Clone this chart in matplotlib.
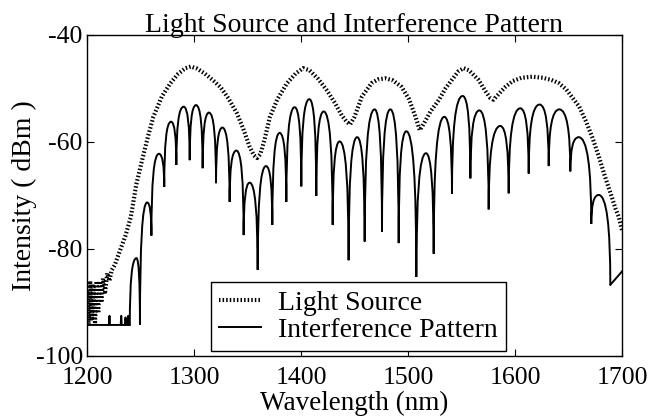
import matplotlib
matplotlib.use("Agg")
import matplotlib.pyplot as plt
from matplotlib.path import Path
from matplotlib.patches import PathPatch
from matplotlib.lines import Line2D

plt.rcParams['font.family'] = ['Liberation Serif', 'DejaVu Serif']

title = "Light Source and Interference Pattern"
xlabel = "Wavelength (nm)"
ylabel = "Intensity ( dBm )"
xticks = [1200, 1300, 1400, 1500, 1600, 1700]
yticks = [-100, -80, -60, -40]
legend_labels = ["Light Source", "Interference Pattern"]

# Light source spectrum (wavelength nm, dBm)
ls_wl = [1200, 1201.5, 1203, 1204.5, 1206, 1207.5, 1209, 1210.5, 1212, 1213.5,
         1215, 1217, 1219, 1221, 1223, 1226, 1231, 1236, 1241, 1246, 1252, 1257,
         1262, 1270, 1278, 1285, 1292, 1297, 1303, 1310, 1318, 1325, 1332, 1340,
         1346, 1352, 1356, 1359, 1362, 1366, 1371, 1378, 1387, 1395, 1402, 1408,
         1416, 1424, 1432, 1438, 1443, 1446, 1450, 1457, 1466, 1472, 1479, 1486,
         1494, 1501, 1507, 1511, 1515, 1521, 1529, 1535, 1541, 1547, 1552, 1557,
         1562, 1566, 1572, 1577, 1580, 1584, 1591, 1598, 1606, 1616, 1626, 1634,
         1641, 1648, 1654, 1660, 1666, 1672, 1678, 1684, 1690, 1694, 1697, 1700]
ls_db = [-88, -94, -86, -93, -87, -94, -86, -92, -86, -90,
         -85.5, -88, -84.5, -86, -84, -83, -80.2, -77.5, -74, -68, -63, -59,
         -55.3, -51.5, -49, -47.3, -46.2, -45.9, -46.3, -47.2, -48.5, -49.8, -51.8, -54.6,
         -57.5, -60.9, -62.5, -63, -62.3, -59.5, -55.3, -52, -49, -47.2, -46.2, -46.6,
         -48.2, -50.3, -52.8, -55, -56.3, -56.7, -55.3, -51.5, -49, -48.3, -48.1, -48.5,
         -49.7, -52, -55.3, -57.8, -56.5, -54.3, -52.1, -50, -48.4, -46.8, -46.2, -46.6,
         -47.6, -48.4, -50.4, -51.8, -52.1, -51.2, -49.7, -48.6, -48, -47.8, -48, -48.4,
         -49, -50.2, -51.8, -53.4, -56, -59, -62.5, -66.4, -70, -72.5, -74, -76.5]

# Interference pattern: noise floor part before the fringes
floor_wl = [1200, 1220.5, 1221, 1221.5, 1231.5, 1232, 1232.5, 1235.5, 1236, 1236.5,
            1238, 1238.5, 1239, 1240]
floor_db = [-94.2, -94.2, -92.5, -94.2, -94.2, -92.5, -94.2, -94.2, -92.8, -94.2,
            -94.2, -92.5, -94.2, -94.2]

# Fringe extrema, alternating null / peak (wavelength nm, dBm)
fr_wl = [1240, 1246.2, 1249.5, 1256.2, 1260.2, 1267.2, 1272.2, 1278.5, 1283.5, 1290.3,
         1296, 1301.9, 1308.1, 1314, 1320.6, 1326.5, 1333.3, 1339.6, 1346.4, 1352,
         1359.5, 1367.3, 1373.2, 1380.1, 1386.3, 1394.1, 1400.3, 1407.8, 1414.3, 1421.2,
         1429.6, 1436.1, 1444.5, 1452.5, 1459.5, 1468.8, 1475.7, 1483.5, 1491.3, 1498.4,
         1507.8, 1516.8, 1524, 1533.9, 1541.1, 1551.1, 1558.3, 1566.7, 1575.4, 1586.3,
         1594.1, 1605, 1612.8, 1623, 1631.5, 1641.4, 1651.7, 1659.5, 1671.3, 1678.2,
         1689.1]
fr_db = [-94.2, -81.7, -94.2, -71.3, -77.5, -62.2, -68.4, -56.2, -64.3, -53.4,
         -63.4, -53.1, -64.9, -54.5, -67.7, -57.3, -71.2, -61.6, -77.4, -67.6,
         -83.9, -64.5, -75.5, -58.3, -71.2, -53.5, -68.3, -52.0, -70.1, -54.3,
         -75.5, -59.9, -82.1, -59.1, -78.6, -53.9, -76.8, -53.9, -78.9, -58.0,
         -85.2, -62.1, -80.9, -55.3, -69.7, -51.4, -66.8, -54.1, -72.6, -57.0,
         -69.6, -53.7, -65.9, -53.0, -64.5, -53.9, -65.5, -59.1, -75.3, -69.9,
         -86.7]

# Tail after the last null
tail_wl = [1689.1, 1700]
tail_db = [-86.7, -84.2]

fig = plt.figure(figsize=(6.61, 4.19), dpi=100)
ax = fig.add_axes([0.1316, 0.1504, 0.8094, 0.7661])

dot_style = (0, (0.36, 0.5))
ls_line, = ax.plot(ls_wl, ls_db, color='black', lw=3.0,
                   linestyle=dot_style, dash_capstyle='butt', zorder=2)

# fringes drawn as arches: vertical at nulls, flat at peaks
verts = [(fr_wl[0], fr_db[0])]
codes = [Path.MOVETO]
for i in range(1, len(fr_wl)):
    xa, ya = fr_wl[i - 1], fr_db[i - 1]
    xb, yb = fr_wl[i], fr_db[i]
    if i % 2 == 1:   # null -> peak
        ctrl = (xa, yb)
    else:            # peak -> null
        ctrl = (xb, ya)
    verts += [ctrl, (xb, yb)]
    codes += [Path.CURVE3, Path.CURVE3]
ax.add_patch(PathPatch(Path(verts, codes), fill=False, edgecolor='black',
                       lw=1.4, zorder=3, capstyle='butt', joinstyle='miter'))
ax.plot(floor_wl, floor_db, color='black', lw=1.4, zorder=3)
ax.plot(tail_wl, tail_db, color='black', lw=1.4, zorder=3)

ax.set_xlim(1200, 1700)
ax.set_ylim(-100, -40)
ax.set_xticks(xticks)
ax.set_yticks(yticks)
ax.set_xticklabels([str(v) for v in xticks])
ax.set_yticklabels([str(v) for v in yticks])
ax.tick_params(direction='in', length=5, width=0.8, top=True, right=True,
               labelsize=18.5)
ax.tick_params(axis='x', pad=8)
ax.tick_params(axis='y', pad=3)
for s in ax.spines.values():
    s.set_linewidth(1.0)

ax.set_title(title, fontsize=20, pad=2)
ax.set_xlabel(xlabel, fontsize=19.5, labelpad=1)
ax.set_ylabel(ylabel, fontsize=20, labelpad=-1)

handles = [Line2D([], [], color='black', lw=3.0, linestyle=dot_style,
                  dash_capstyle='butt'),
           Line2D([], [], color='black', lw=1.4)]
leg = ax.legend(handles, legend_labels, loc='lower left',
                bbox_to_anchor=(0.232, 0.016), fontsize=20, frameon=True,
                fancybox=False, framealpha=1, edgecolor='black',
                handlelength=1.5, handletextpad=0.6, borderpad=0.3,
                labelspacing=0.05, borderaxespad=0)
leg.get_frame().set_linewidth(1.0)

fig.savefig("out.png", dpi=100)
